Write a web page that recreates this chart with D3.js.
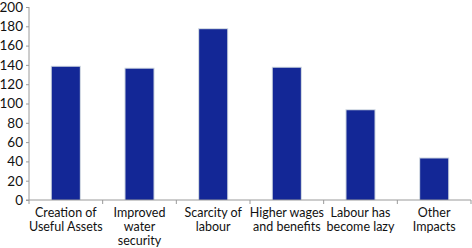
<!DOCTYPE html>
<html>
<head>
<meta charset="utf-8">
<script src="https://d3js.org/d3.v7.min.js"></script>
<style>
  body { margin: 0; background: #fff; }
  text { font-family: Lato, "Open Sans", sans-serif; fill: #111; }
</style>
</head>
<body>
<svg id="vis"></svg>
<script>
  // chart data
  let categories = [
    ["Creation of", "Useful Assets"],
    ["Improved", "water", "security"],
    ["Scarcity of", "labour"],
    ["Higher wages", "and benefits"],
    ["Labour has", "become lazy"],
    ["Other", "Impacts"]
  ];
  let values = [138, 136, 177, 137, 93, 43];
  let yTicks = [0, 20, 40, 60, 80, 100, 120, 140, 160, 180, 200];

  let width = 472, height = 248;
  let margin = {top: 7, right: 1, bottom: 48, left: 29};

  let svg = d3.select("#vis").attr("width", width).attr("height", height);

  let x = d3.scaleBand()
    .domain(d3.range(categories.length))
    .range([margin.left, width - margin.right])
    .paddingInner(0.62)
    .paddingOuter(0.31);

  let y = d3.scaleLinear()
    .domain([0, 200])
    .range([height - margin.bottom, margin.top]);

  // bar glow / outline
  svg.selectAll(".shadow")
    .data(values)
    .join("rect")
    .attr("class", "shadow")
    .attr("x", (d, i) => x(i) - 1)
    .attr("y", d => y(d) - 1)
    .attr("width", x.bandwidth() + 2)
    .attr("height", d => y(0) - y(d) + 1)
    .attr("fill", "#c9d2de");

  svg.selectAll(".bar")
    .data(values)
    .join("rect")
    .attr("class", "bar")
    .attr("x", (d, i) => x(i))
    .attr("y", d => y(d))
    .attr("width", x.bandwidth())
    .attr("height", d => y(0) - y(d))
    .attr("fill", "#132796");

  // y axis
  let yAxis = svg.append("g")
    .attr("transform", `translate(${margin.left},0)`)
    .call(d3.axisLeft(y).tickValues(yTicks).tickSize(3).tickPadding(3));
  yAxis.selectAll("path, line").attr("stroke", "#9a9a9a");
  yAxis.selectAll("text").style("font-size", "13.5px").style("font-family", "Lato, sans-serif").attr("fill", "#111");
  yAxis.select(".domain").attr("d", `M0,${y(0)}V${y(200)}`);

  // x axis with boundary ticks
  let step = x.step();
  let bounds = d3.range(categories.length + 1).map(i => margin.left + i * step);
  svg.append("line")
    .attr("x1", margin.left - 3).attr("x2", width - margin.right)
    .attr("y1", y(0)).attr("y2", y(0))
    .attr("stroke", "#9a9a9a");
  svg.selectAll(".xtick")
    .data(bounds)
    .join("line")
    .attr("class", "xtick")
    .attr("x1", d => d).attr("x2", d => d)
    .attr("y1", y(0)).attr("y2", y(0) + 4)
    .attr("stroke", "#9a9a9a");

  let labels = svg.selectAll(".xlabel")
    .data(categories)
    .join("g")
    .attr("class", "xlabel")
    .attr("transform", (d, i) => `translate(${x(i) + x.bandwidth() / 2},${y(0) + 17})`);
  labels.selectAll("text")
    .data(d => d)
    .join("text")
    .attr("text-anchor", "middle")
    .style("font-size", "12.5px")
    .attr("y", (d, i) => i * 14)
    .text(d => d);
</script>
</body>
</html>
